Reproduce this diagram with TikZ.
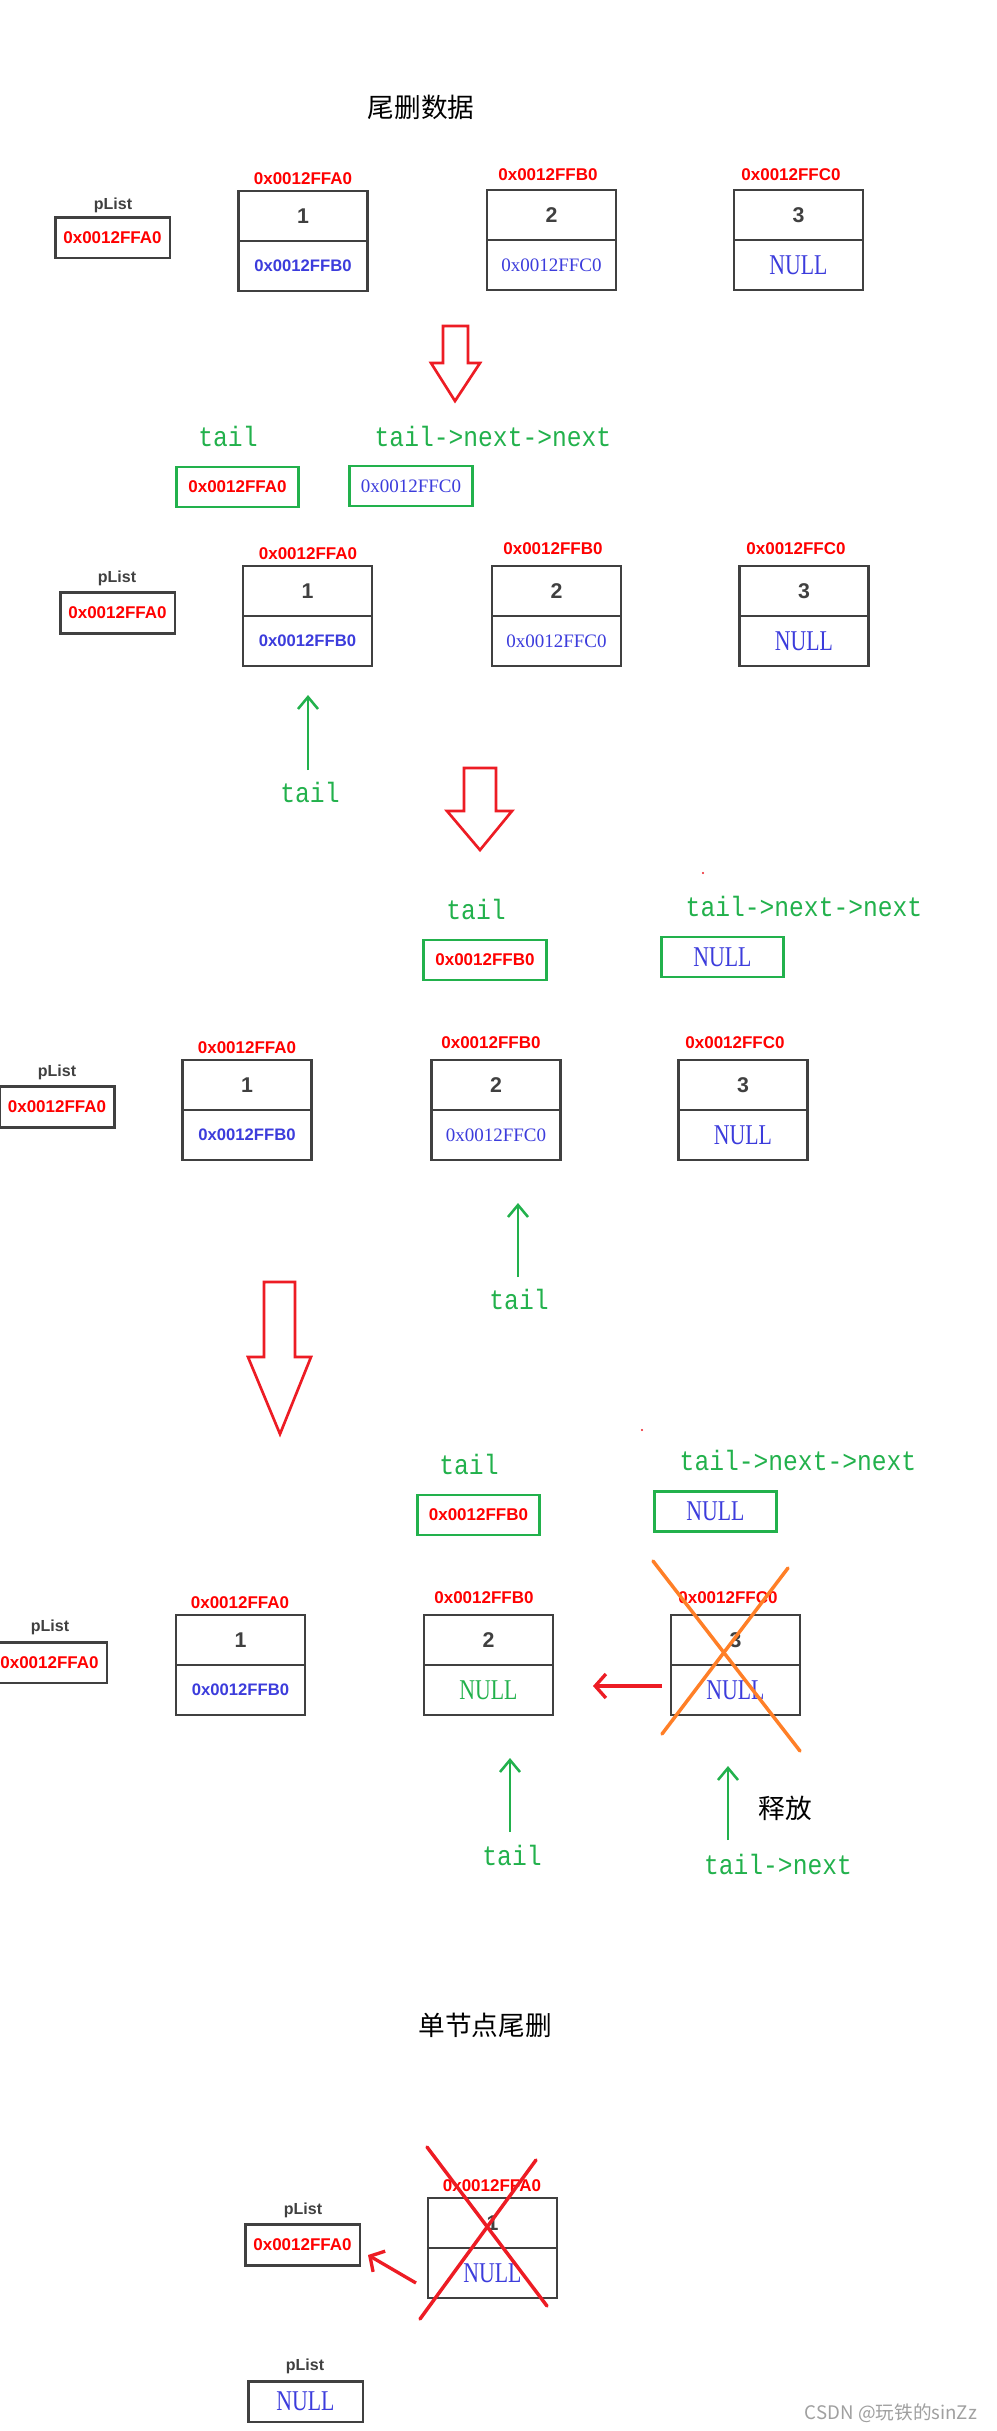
\documentclass[tikz,border=0pt]{standalone}
\usepackage{fontspec}
\usetikzlibrary{arrows.meta}
\setmainfont{Liberation Serif}
\newfontfamily\sansf{Liberation Sans}
\newfontfamily\seriff{Liberation Serif}
\newfontfamily\nullf[FakeStretch=0.76]{Liberation Serif}
\newfontfamily\monof[FakeStretch=0.88]{Liberation Mono}
\newfontfamily\cjkf{Noto Sans CJK SC}
\definecolor{boxgray}{RGB}{64,64,64}
\definecolor{addrred}{RGB}{255,0,0}
\definecolor{pred}{RGB}{237,28,36}
\definecolor{pgreen}{RGB}{34,177,76}
\definecolor{tblue}{RGB}{60,60,220}
\definecolor{porange}{RGB}{255,127,39}
\definecolor{wmgray}{RGB}{160,160,160}
\tikzset{
  cell/.style={draw=boxgray, line width=2pt, minimum width=96.75pt, minimum height=37.5pt, inner sep=0pt, outer sep=0pt},
  pbox/.style={draw=boxgray, line width=2pt, minimum width=86pt, minimum height=30.5pt, inner sep=0pt},
  gbox/.style={draw=pgreen, line width=2.2pt, minimum width=92pt, minimum height=30pt, inner sep=0pt},
  addr/.style={text=addrred, font=\sansf\bfseries\fontsize{12.75}{14}\selectfont, inner sep=0pt},
  plab/.style={text=boxgray, font=\sansf\bfseries\fontsize{12}{14}\selectfont, inner sep=0pt},
  num/.style={text=boxgray, font=\sansf\bfseries\fontsize{16}{18}\selectfont},
  bsans/.style={text=tblue, font=\sansf\bfseries\fontsize{12.5}{14}\selectfont},
  bserif/.style={text=tblue, font=\seriff\fontsize{14.25}{16}\selectfont},
  nulltxt/.style={text=tblue, font=\nullf\fontsize{21.5}{23}\selectfont},
  gmono/.style={text=pgreen, font=\monof\fontsize{21}{23}\selectfont, inner sep=0pt},
  cjktitle/.style={text=black, font=\cjkf\fontsize{20}{22}\selectfont, inner sep=0pt},
  hollow/.style={draw=pred, line width=2pt, line join=miter},
  garrow/.style={draw=pgreen, line width=1.9pt, -{Straight Barb[length=9pt,width=15pt]}},
  rarrow/.style={draw=pred, line width=2.5pt, -{Straight Barb[length=8pt,width=18pt]}},
  cross/.style={line width=2.6pt, line cap=round},
}
\newcommand\mklistnode[6]{%
  \node[cell,num] (#1v) at (#2,#3+25) {#4};
  \node[cell,#5] (#1n) at (#2,#3+75) {#6};
}
\begin{document}
\begin{tikzpicture}[x=0.75pt,y=-0.75pt]
\clip (0,0) rectangle (996,2431);
\fill[white] (0,0) rectangle (996,2431);

% ---------- Section 1 ----------
\node[cjktitle] (t1) at (421,107) {尾删数据};
\node[plab] (pl1) at (113,205) {pList};
\node[pbox,addr] (pb1) at (112.5,237.5) {0x0012FFA0};
\mklistnode{a1}{303}{191}{1}{bsans}{0x0012FFB0}
\node[addr] (a1l) at (303,179) {0x0012FFA0};
\mklistnode{a2}{551.5}{190}{2}{bserif}{0x0012FFC0}
\node[addr] (a2l) at (548,175) {0x0012FFB0};
\mklistnode{a3}{798.5}{190}{3}{nulltxt}{NULL}
\node[addr] (a3l) at (791,175) {0x0012FFC0};

% big arrow 1
\draw[hollow] (443,326) -- (468,326) -- (468,363) -- (480,363) -- (455,401) -- (431,363) -- (443,363) -- cycle;

% ---------- Section 2 ----------
\node[gmono] (s2tail) at (228,436) {tail};
\node[gmono] (s2tnn) at (493,436) {tail->next->next};
\node[gbox,addr] (s2g1) at (237.5,487) {0x0012FFA0};
\node[gbox,bserif] (s2g2) at (411,486) {0x0012FFC0};
\node[plab] (pl2) at (117,578) {pList};
\node[pbox,addr] (pb2) at (117.5,613) {0x0012FFA0};
\mklistnode{b1}{307.5}{566}{1}{bsans}{0x0012FFB0}
\node[addr] (b1l) at (308,554) {0x0012FFA0};
\mklistnode{b2}{556.5}{566}{2}{bserif}{0x0012FFC0}
\node[addr] (b2l) at (553,549) {0x0012FFB0};
\mklistnode{b3}{804}{566}{3}{nulltxt}{NULL}
\node[addr] (b3l) at (796,549) {0x0012FFC0};
\coordinate (b2s) at (308,770);
\coordinate (b2e) at (308,695);
\draw[garrow] (b2s) -- (b2e);
\node[gmono] (s2tail2) at (310,792) {tail};

% big arrow 2
\draw[hollow] (464,768) -- (496,768) -- (496,811) -- (512,811) -- (480,850) -- (447,811) -- (464,811) -- cycle;

% ---------- Section 3 ----------
\fill[pred] (703,873) circle (1.2);
\node[gmono] (s3tail) at (476,909) {tail};
\node[gmono] (s3tnn) at (804,906) {tail->next->next};
\node[gbox,addr] (s3g1) at (485,960) {0x0012FFB0};
\node[gbox,nulltxt] (s3g2) at (722.5,957) {NULL};
\node[plab] (pl3) at (57,1072) {pList};
\node[pbox,addr] (pb3) at (57,1107) {0x0012FFA0};
\mklistnode{c1}{247}{1060}{1}{bsans}{0x0012FFB0}
\node[addr] (c1l) at (247,1048) {0x0012FFA0};
\mklistnode{c2}{496}{1060}{2}{bserif}{0x0012FFC0}
\node[addr] (c2l) at (491,1043) {0x0012FFB0};
\mklistnode{c3}{743}{1060}{3}{nulltxt}{NULL}
\node[addr] (c3l) at (735,1043) {0x0012FFC0};
\coordinate (c2s) at (518,1277);
\coordinate (c2e) at (518,1203);
\draw[garrow] (c2s) -- (c2e);
\node[gmono] (s3tail2) at (519,1299) {tail};

% big arrow 3
\draw[hollow] (264,1282) -- (295,1282) -- (295,1357) -- (311,1357) -- (280,1434) -- (248,1357) -- (264,1357) -- cycle;

% ---------- Section 4 ----------
\fill[pred] (642,1430) circle (1.2);
\node[gmono] (s4tail) at (469,1464) {tail};
\node[gmono] (s4tnn) at (798,1460) {tail->next->next};
\node[gbox,addr] (s4g1) at (478.5,1515) {0x0012FFB0};
\node[gbox,nulltxt] (s4g2) at (715.5,1511.5) {NULL};
\node[plab] (pl4) at (50,1627) {pList};
\node[pbox,addr] (pb4) at (49.5,1662.5) {0x0012FFA0};
\mklistnode{d1}{240.5}{1615}{1}{bsans}{0x0012FFB0}
\node[addr] (d1l) at (240,1603) {0x0012FFA0};
\mklistnode{d2}{488.5}{1615}{2}{nulltxt,text=pgreen}{NULL}
\node[addr] (d2l) at (484,1598) {0x0012FFB0};
\mklistnode{d3}{735.5}{1615}{3}{nulltxt}{NULL}
\node[addr] (d3l) at (728,1598) {0x0012FFC0};
\coordinate (d3s) at (662,1686);
\coordinate (d3e) at (593,1686);
\draw[rarrow] (d3s) -- (d3e);
\draw[cross,porange] (653,1561) -- (800,1751);
\draw[cross,porange] (788,1568) -- (662,1734);
\coordinate (d2s) at (510,1832);
\coordinate (d2e) at (510,1758);
\draw[garrow] (d2s) -- (d2e);
\node[gmono] (s4tail2) at (512,1855) {tail};
\coordinate (d4s) at (728,1840);
\coordinate (d4e) at (728,1766);
\draw[garrow] (d4s) -- (d4e);
\node[cjktitle] (free) at (785,1808) {释放};
\node[gmono] (s4tn) at (778,1864) {tail->next};

% ---------- Section 5 ----------
\node[cjktitle] (t2) at (485,2025) {单节点尾删};
\mklistnode{e1}{492.5}{2198}{1}{nulltxt}{NULL}
\node[addr] (e1l) at (492,2186) {0x0012FFA0};
\draw[cross,pred] (427,2147) -- (547,2306);
\draw[cross,pred] (536,2160) -- (420,2319);
\node[plab] (pl5) at (303,2210) {pList};
\node[pbox,addr] (pb5) at (302.5,2245) {0x0012FFA0};
\coordinate (e2s) at (416,2283);
\coordinate (e2e) at (368,2255);
\draw[rarrow] (e2s) -- (e2e);
\node[plab] (pl6) at (305,2366) {pList};
\node[pbox,nulltxt] (pb6) at (305.5,2401.5) {NULL};

\node[text=wmgray, font=\cjkf\fontsize{14}{16}\selectfont, inner sep=0pt] (wm) at (891,2413) {CSDN @玩铁的sinZz};
\end{tikzpicture}
\end{document}
